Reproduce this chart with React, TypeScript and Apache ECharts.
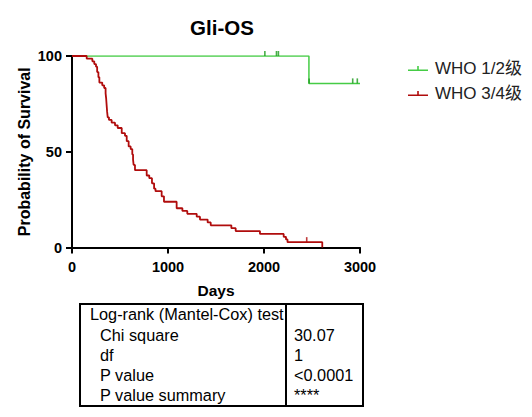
import React, { useEffect, useRef } from "react";
import * as echarts from "echarts";

const FONT = "'Liberation Sans', Arial, 'Noto Sans CJK SC', sans-serif";

const title = "Gli-OS";
const xName = "Days";
const yName = "Probability of Survival";
const groupNames = ["WHO 1/2级", "WHO 3/4级"];

// Kaplan-Meier steps: [day, survival %]
const lowGradeSteps: [number, number][] = [
  [0, 100],
  [2468, 85.7],
  [3000, 85.7],
];
const lowGradeCensored: [number, number][] = [
  [2009, 100],
  [2130, 100],
  [2150, 100],
  [2470, 85.7],
  [2924, 85.7],
  [2972, 85.7],
];

const highGradeSteps: [number, number][] = [
  [0, 100],
  [153, 98.6],
  [212, 97.2],
  [232, 95.8],
  [250, 94.4],
  [262, 91.6],
  [275, 88.9],
  [285, 86.1],
  [315, 84.7],
  [335, 83.3],
  [350, 80.5],
  [356, 77.7],
  [362, 73.5],
  [366, 70.8],
  [372, 68.0],
  [385, 66.6],
  [413, 65.2],
  [448, 63.8],
  [476, 62.4],
  [518, 59.7],
  [552, 58.3],
  [570, 55.5],
  [590, 52.8],
  [611, 51.4],
  [628, 48.6],
  [636, 45.9],
  [642, 43.1],
  [656, 40.4],
  [778, 37.6],
  [805, 36.2],
  [833, 33.5],
  [855, 30.7],
  [870, 29.4],
  [934, 26.7],
  [958, 23.9],
  [1090, 20.5],
  [1150, 19.1],
  [1201, 17.6],
  [1299, 16.1],
  [1333, 14.6],
  [1413, 13.1],
  [1445, 11.6],
  [1660, 10.1],
  [1705, 8.6],
  [1958, 7.1],
  [2205, 5.6],
  [2229, 4.2],
  [2245, 2.8],
  [2607, 0],
];
const highGradeCensored: [number, number][] = [[2445, 2.8]];

const xTicks = { min: 0, max: 3000, interval: 1000 };
const yTicks = { min: 0, max: 100, interval: 50 };

const tableRows: [string, string][] = [
  ["Log-rank (Mantel-Cox) test", ""],
  ["Chi square", "30.07"],
  ["df", "1"],
  ["P value", "<0.0001"],
  ["P value summary", "****"],
];

const GREEN = "#45cc45";
const GREEN_DARK = "#1a9a1a";
const RED = "#b00c0c";

const legendIcon =
  "path://M0,6L20,6L20,7.6L0,7.6Z M9.2,2.5L10.8,2.5L10.8,6L9.2,6Z";

export default function App() {
  const ref = useRef<HTMLDivElement>(null);

  useEffect(() => {
    if (!ref.current) return;
    const chart = echarts.init(ref.current, undefined, { renderer: "svg" });

    const tableTop = 304;
    const rowH = 20.2;
    const tableGraphics: any[] = [
      {
        type: "rect",
        shape: { x: 80, y: tableTop, width: 283, height: 102 },
        style: { fill: "none", stroke: "#000", lineWidth: 2 },
      },
      {
        type: "line",
        shape: { x1: 286, y1: tableTop, x2: 286, y2: tableTop + 102 },
        style: { stroke: "#000", lineWidth: 2 },
      },
    ];
    tableRows.forEach(([label, value], i) => {
      const cy = tableTop + 10.3 + i * rowH;
      tableGraphics.push({
        type: "text",
        x: i === 0 ? 90 : 100,
        y: cy,
        style: {
          text: label,
          fontSize: 16.3,
          fontFamily: FONT,
          fill: "#000",
          verticalAlign: "middle",
        },
      });
      if (value) {
        tableGraphics.push({
          type: "text",
          x: 294,
          y: cy,
          style: {
            text: value,
            fontSize: 16.3,
            fontFamily: FONT,
            fill: "#000",
            verticalAlign: "middle",
          },
        });
      }
    });

    const axisCommon = {
      axisLine: { show: true, onZero: false, lineStyle: { color: "#000", width: 2 } },
      axisTick: { show: true, length: 6, lineStyle: { color: "#000", width: 2 } },
      splitLine: { show: false },
      nameMoveOverlap: false,
      axisLabel: {
        color: "#000",
        fontSize: 14.5,
        fontWeight: "bold" as const,
        fontFamily: FONT,
        formatter: (v: number) => String(v),
      },
      nameTextStyle: {
        color: "#000",
        fontWeight: "bold" as const,
        fontFamily: FONT,
      },
    };

    chart.setOption({
      animation: false,
      title: {
        text: title,
        left: 217,
        top: 12,
        textAlign: "center",
        textStyle: { fontSize: 20.5, fontWeight: "bold", fontFamily: FONT, color: "#000" },
      },
      legend: {
        orient: "vertical",
        left: 403,
        top: 55,
        itemWidth: 20,
        itemHeight: 8,
        itemGap: 8,
        icon: legendIcon,
        data: groupNames,
        textStyle: {
          fontSize: 17,
          color: "#222",
          fontFamily: FONT,
          padding: [0, 0, 0, 2],
        },
      },
      grid: { left: 72, top: 56, width: 288, height: 191.5, containLabel: false },
      xAxis: {
        type: "value",
        ...xTicks,
        name: xName,
        nameLocation: "middle",
        nameGap: 35,
        ...axisCommon,
        axisLabel: { ...axisCommon.axisLabel, margin: 12 },
        nameTextStyle: { ...axisCommon.nameTextStyle, fontSize: 15.5 },
      },
      yAxis: {
        type: "value",
        ...yTicks,
        name: yName,
        nameLocation: "middle",
        nameGap: 40,
        ...axisCommon,
        axisLabel: { ...axisCommon.axisLabel, margin: 10 },
        nameTextStyle: { ...axisCommon.nameTextStyle, fontSize: 16 },
      },
      graphic: tableGraphics,
      series: [
        {
          name: groupNames[0],
          type: "line",
          step: "end",
          data: lowGradeSteps,
          showSymbol: false,
          lineStyle: { color: GREEN, width: 1.5 },
          itemStyle: { color: GREEN },
          z: 2,
        },
        {
          name: groupNames[1],
          type: "line",
          step: "end",
          data: highGradeSteps,
          showSymbol: false,
          lineStyle: { color: RED, width: 1.8 },
          itemStyle: { color: RED },
          z: 3,
        },
        {
          name: "censor-1",
          type: "scatter",
          data: lowGradeCensored,
          symbol: "rect",
          symbolSize: [1.6, 5],
          symbolOffset: [0, -2.5],
          itemStyle: { color: GREEN_DARK },
          z: 4,
        },
        {
          name: "censor-2",
          type: "scatter",
          data: highGradeCensored,
          symbol: "rect",
          symbolSize: [1.6, 5],
          symbolOffset: [0, -2.5],
          itemStyle: { color: RED },
          z: 4,
        },
      ],
    });

    return () => chart.dispose();
  }, []);

  return (
    <div
      ref={ref}
      style={{ position: "fixed", left: 0, top: 0, width: 532, height: 417, background: "#fff" }}
    />
  );
}
